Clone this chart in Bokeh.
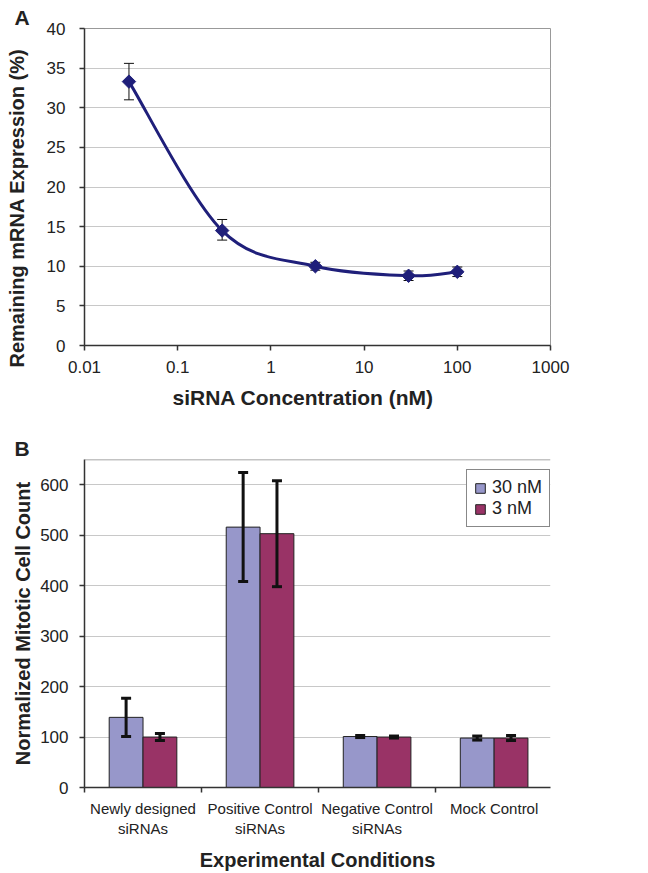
import numpy as np
from bokeh.plotting import figure
from bokeh.models import (ColumnDataSource, Whisker, TeeHead, FixedTicker, Title,
                          Span, Legend, LegendItem, Range1d, LinearAxis)
from bokeh.layouts import column
from bokeh.embed import file_html
from bokeh.resources import INLINE

FONT = "Liberation Sans"

# ---------------- Panel A data ----------------
conc_nM = [0.03, 0.3, 3, 30, 100]
remaining_pct = [33.3, 14.5, 10.0, 8.8, 9.3]
err_low_pct = [31.0, 13.3, 9.5, 8.2, 8.7]
err_high_pct = [35.6, 15.9, 10.5, 9.4, 9.9]
a_yticks = [0, 5, 10, 15, 20, 25, 30, 35, 40]
a_xticks = [0.01, 0.1, 1, 10, 100, 1000]
a_xtick_labels = ["0.01", "0.1", "1", "10", "100", "1000"]

# ---------------- Panel B data ----------------
conditions = ["Newly designed\nsiRNAs", "Positive Control\nsiRNAs",
              "Negative Control\nsiRNAs", "Mock Control"]
series_names = ["30 nM", "3 nM"]
count_30nM = [139, 516, 101, 98]
count_30nM_err = [38, 108, 2, 4]
count_3nM = [100, 503, 100, 98]
count_3nM_err = [7, 105, 2, 5]
b_yticks = [0, 100, 200, 300, 400, 500, 600]

NAVY = "#1F1F7A"
C30 = "#9797CA"
C3 = "#993366"
AX = "#333333"
TXT = "#222222"
W = 648


def style_axis(ax, size="17px"):
    ax.axis_line_color = AX
    ax.axis_line_width = 1.5
    ax.major_tick_line_color = AX
    ax.major_tick_line_width = 1.5
    ax.major_tick_out = 5
    ax.major_tick_in = 0
    ax.minor_tick_line_color = None
    ax.major_label_text_font = FONT
    ax.major_label_text_font_size = size
    ax.major_label_text_color = TXT


def title(text, size="20px", **kw):
    return Title(text=text, text_font=FONT, text_font_size=size,
                 text_font_style="bold", text_color=TXT, **kw)


# ================= Figure A =================
pa = figure(width=W, height=428, x_axis_type="log",
            x_range=Range1d(0.01, 1000), y_range=Range1d(0, 40),
            output_backend="svg", toolbar_location=None,
            min_border_left=83, min_border_right=98,
            min_border_top=28, min_border_bottom=83)
pa.outline_line_color = "#999999"
pa.xgrid.visible = False
pa.ygrid.grid_line_color = "#c8c8c8"
pa.ygrid.grid_line_width = 1
pa.xaxis.ticker = FixedTicker(ticks=a_xticks)
pa.xaxis.major_label_overrides = {t: l for t, l in zip(a_xticks, a_xtick_labels)}
pa.yaxis.ticker = FixedTicker(ticks=a_yticks)
style_axis(pa.xaxis[0])
style_axis(pa.yaxis[0])
pa.xaxis.major_label_standoff = 10
pa.yaxis.major_label_standoff = 14

src_a = ColumnDataSource(dict(x=conc_nM, y=remaining_pct, lo=err_low_pct, hi=err_high_pct))
wa = Whisker(base="x", lower="lo", upper="hi", source=src_a,
             line_color="#111111", line_width=1,
             upper_head=TeeHead(size=10, line_color="#111111", line_width=1),
             lower_head=TeeHead(size=10, line_color="#111111", line_width=1))
pa.add_layout(wa)

# smoothed line (Catmull-Rom style Bezier through the data points)
lx = np.log10(np.array(conc_nM, dtype=float))
ly = np.array(remaining_pct, dtype=float)
n = len(lx)
bx0, by0, bx1, by1, cx0, cy0, cx1, cy1 = [], [], [], [], [], [], [], []
for i in range(n - 1):
    im, ip, ip2 = max(i - 1, 0), i + 1, min(i + 2, n - 1)
    c0x = lx[i] + (lx[ip] - lx[im]) / 6.0
    c0y = ly[i] + (ly[ip] - ly[im]) / 6.0
    c1x = lx[ip] - (lx[ip2] - lx[i]) / 6.0
    c1y = ly[ip] - (ly[ip2] - ly[i]) / 6.0
    bx0.append(10 ** lx[i]); by0.append(ly[i])
    bx1.append(10 ** lx[ip]); by1.append(ly[ip])
    cx0.append(10 ** c0x); cy0.append(c0y)
    cx1.append(10 ** c1x); cy1.append(c1y)
pa.bezier(x0=bx0, y0=by0, x1=bx1, y1=by1, cx0=cx0, cy0=cy0, cx1=cx1, cy1=cy1,
          line_color=NAVY, line_width=3)
pa.scatter("x", "y", source=src_a, marker="square", angle=np.pi / 4, size=9.5,
           fill_color=NAVY, line_color=NAVY)

# invisible spacer axis to push the y title a little further from the tick labels
spacer = LinearAxis(ticker=FixedTicker(ticks=[]), axis_line_color=None,
                    major_tick_out=0, major_tick_in=0,
                    major_tick_line_color=None, minor_tick_line_color=None,
                    axis_label=" ", axis_label_text_font_size="2px",
                    axis_label_standoff=8, axis_label_text_color=None)
pa.add_layout(spacer, "left")
pa.add_layout(title("Remaining mRNA Expression (%)", align="left", offset=-22,
                    standoff=6), "left")
pa.add_layout(title("siRNA Concentration (nM)", size="21px", align="left", offset=88,
                    vertical_align="top", standoff=20), "below")
pa.add_layout(title("A", size="21px", align="left", offset=-70,
                    vertical_align="bottom", standoff=0), "above")

# ================= Figure B =================
cat_w = 141.9
frame_w_b = W - 83
pb = figure(width=W, height=445,
            x_range=Range1d(0, frame_w_b / cat_w), y_range=Range1d(0, 650),
            output_backend="svg", toolbar_location=None,
            min_border_left=83, min_border_right=0,
            min_border_top=31, min_border_bottom=85)
pb.outline_line_color = None
pb.xgrid.visible = False
pb.ygrid.grid_line_color = "#c8c8c8"
pb.ygrid.grid_line_width = 1
pb.yaxis.ticker = FixedTicker(ticks=b_yticks)
centers = [i + 0.5 for i in range(len(conditions))]
pb.xaxis.ticker = FixedTicker(ticks=centers, minor_ticks=[0, 1, 2, 3])
pb.xaxis.major_label_overrides = {c: l for c, l in zip(centers, conditions)}
style_axis(pb.yaxis[0])
style_axis(pb.xaxis[0], size="15px")
pb.yaxis.major_label_standoff = 11
pb.xaxis.major_tick_line_color = None
pb.xaxis.minor_tick_line_color = AX
pb.xaxis.minor_tick_line_width = 1.5
pb.xaxis.minor_tick_out = 5
pb.xaxis.minor_tick_in = 0
pb.xaxis.major_label_standoff = 7
pb.xaxis.axis_label = "Experimental Conditions"
pb.xaxis.axis_label_text_font = FONT
pb.xaxis.axis_label_text_font_size = "20px"
pb.xaxis.axis_label_text_font_style = "bold"
pb.xaxis.axis_label_text_color = TXT
pb.xaxis.axis_label_standoff = 9
pb.add_layout(Span(location=650, dimension="width", line_color="#888888", line_width=1.5))

bar_w = 0.289
x30 = [c - bar_w / 2 for c in centers]
x3 = [c + bar_w / 2 for c in centers]
src30 = ColumnDataSource(dict(x=x30, top=count_30nM,
                              lo=[v - e for v, e in zip(count_30nM, count_30nM_err)],
                              hi=[v + e for v, e in zip(count_30nM, count_30nM_err)]))
src3 = ColumnDataSource(dict(x=x3, top=count_3nM,
                             lo=[v - e for v, e in zip(count_3nM, count_3nM_err)],
                             hi=[v + e for v, e in zip(count_3nM, count_3nM_err)]))
r30 = pb.vbar(x="x", top="top", width=bar_w, source=src30,
              fill_color=C30, line_color="#222222", line_width=1)
r3 = pb.vbar(x="x", top="top", width=bar_w, source=src3,
             fill_color=C3, line_color="#222222", line_width=1)
for s in (src30, src3):
    wb = Whisker(base="x", lower="lo", upper="hi", source=s, level="overlay",
                 line_color="#111111", line_width=3,
                 upper_head=TeeHead(size=10, line_color="#111111", line_width=3),
                 lower_head=TeeHead(size=10, line_color="#111111", line_width=3))
    pb.add_layout(wb)

legend = Legend(items=[LegendItem(label=series_names[0], renderers=[r30]),
                       LegendItem(label=series_names[1], renderers=[r3])],
                location=(382, 260), orientation="vertical",
                padding=7, spacing=0, label_height=18,
                glyph_width=12, glyph_height=12, label_standoff=6,
                border_line_color="#111111", border_line_width=1.5,
                background_fill_color="white", background_fill_alpha=1.0,
                label_text_font=FONT, label_text_font_size="18px",
                label_text_color=TXT)
pb.add_layout(legend)

pb.add_layout(title("Normalized Mitotic Cell Count", align="center", standoff=8), "left")
pb.add_layout(title("B", size="21px", align="left", offset=-70,
                    vertical_align="bottom", standoff=0), "above")

p = column(pa, pb, spacing=0)
open("out.html", "w").write(file_html(p, INLINE))
